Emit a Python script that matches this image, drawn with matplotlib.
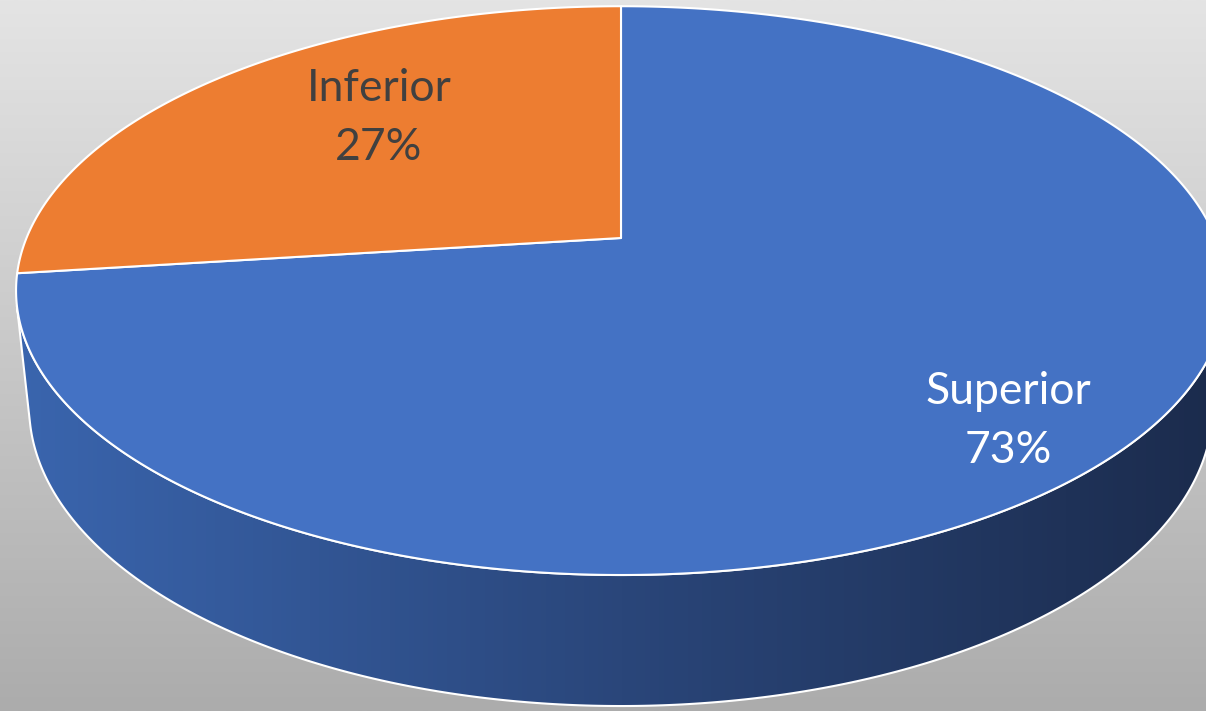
import numpy as np
import matplotlib.pyplot as plt
from matplotlib.colors import LinearSegmentedColormap
from matplotlib.patches import Polygon

labels = ['Superior', 'Inferior']
values = [73, 27]
top_colors = ['#4472c4', '#ed7d31']
label_colors = ['white', '#404040']
label_pos = [(1008, 421), (379, 118)]

W, H = 1206, 711

# simple perspective camera looking down on a disc of radius R
K = 2850.0
R = 0.2086
DEPTH = 0.0462
ELEV = np.arcsin(0.462)
CX, CY = 621, 238
S, C = np.sin(ELEV), np.cos(ELEV)


def project(theta, rad, z):
    x = rad * np.cos(theta)
    y = -rad * np.sin(theta)
    d = 1.0 - y * C - z * S
    px = CX + K * x / d
    py = CY - K * (z * C - y * S) / d
    return px, py


fig = plt.figure(figsize=(W / 100, H / 100), dpi=100)
ax = fig.add_axes([0, 0, 1, 1])
ax.set_xlim(0, W)
ax.set_ylim(H, 0)
ax.axis('off')

# background gradient
bg = LinearSegmentedColormap.from_list('bg', ['#e4e4e4', '#acacac'])
ax.imshow(np.linspace(0, 1, 256)[:, None], cmap=bg, aspect='auto',
          extent=[0, W, H, 0], zorder=0)

# visible side of the cylinder
lim = np.arcsin(R / C)
t = np.linspace(np.pi + lim, 2 * np.pi - lim, 300)
tx, ty = project(t, R, 0.0)
bx, by = project(t[::-1], R, -DEPTH)
side = Polygon(np.column_stack([np.r_[tx, bx], np.r_[ty, by]]),
               closed=True, facecolor='none', edgecolor='white', lw=1.5, zorder=2)
ax.add_patch(side)
side_cmap = LinearSegmentedColormap.from_list(
    'side', ['#3a65ae', '#2a467a', '#1b2b4c'])
grad = ax.imshow(np.linspace(0, 1, 256)[None, :], cmap=side_cmap, aspect='auto',
                 extent=[tx.min(), tx.max(), H, 0], zorder=1)
grad.set_clip_path(side)

# top face slices, starting at 12 o'clock going clockwise
start = np.pi / 2
total = sum(values)
for val, col in zip(values, top_colors):
    sweep = 2 * np.pi * val / total
    a = np.linspace(start, start - sweep, 400)
    px, py = project(a, R, 0.0)
    ox, oy = project(0.0, 0.0, 0.0)
    pts = np.column_stack([np.r_[ox, px], np.r_[oy, py]])
    ax.add_patch(Polygon(pts, closed=True, facecolor=col, edgecolor='white',
                         lw=1.5, joinstyle='round', zorder=3))
    start -= sweep

for lab, val, col, (lx, ly) in zip(labels, values, label_colors, label_pos):
    ax.text(lx, ly, f'{lab}\n{val}%', color=col, fontsize=32, family='Lato',
            ha='center', va='center', linespacing=1.55, zorder=4)

fig.savefig('out.png', dpi=100)
